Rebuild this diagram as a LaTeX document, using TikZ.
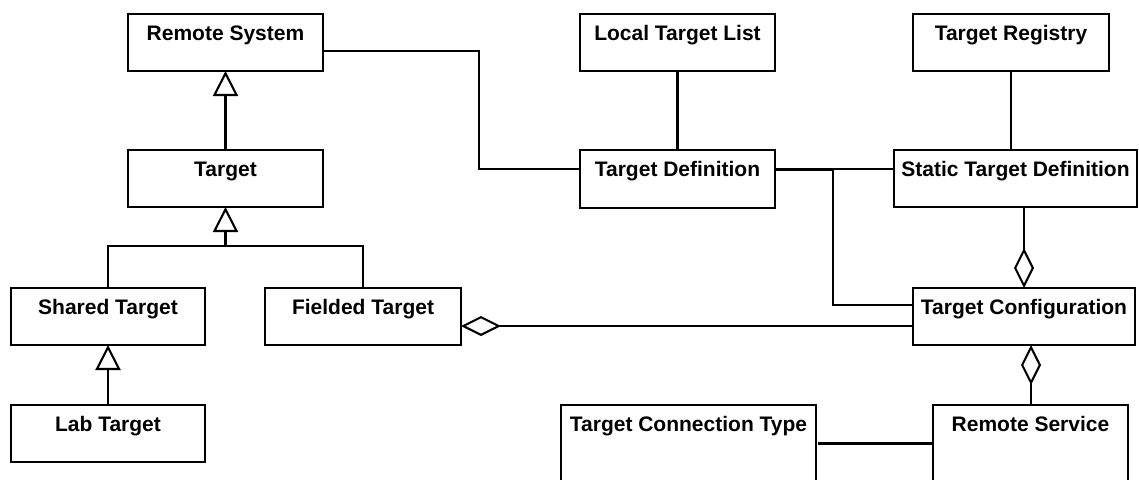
\documentclass[tikz,border=0pt]{standalone}
\usepackage{fontspec}
\setmainfont{Liberation Sans}
\usetikzlibrary{arrows.meta}
\tikzset{
  cls/.style args={#1/#2/#3}{draw, line width=2.1pt, rectangle, anchor=north west,
    minimum width=#1pt, minimum height=#2pt, inner sep=0pt, outer sep=0pt,
    label={[anchor=north, inner sep=0pt, yshift=-11.5pt, font=\fontsize{21pt}{24pt}\selectfont\bfseries]north:{#3}}},
  conn/.style={line width=2.1pt},
  gen/.style={conn, -{Triangle[open, length=25pt, width=25pt, line width=2.1pt]}},
  aggs/.style={conn, {Diamond[open, length=40pt, width=20pt, line width=2.1pt]}-},
  agge/.style={conn, -{Diamond[open, length=40pt, width=20pt, line width=2.1pt]}},
}
\begin{document}
\begin{tikzpicture}[x=1pt, y=1pt]
\clip (0,0) rectangle (1139,-479);
\fill[white] (0,0) rectangle (1139,-479);
% classes
\node[cls=195/57/{Remote System}] (rs) at (128,-14) {};
\node[cls=195/57/{Target}] (tgt) at (128,-150) {};
\node[cls=194/57/{Shared Target}] (sh) at (11,-288) {};
\node[cls=194/57/{Lab Target}] (lab) at (11,-405) {};
\node[cls=196/57/{Fielded Target}] (fld) at (265,-288) {};
\node[cls=195/57/{Local Target List}] (ltl) at (580,-14) {};
\node[cls=195/58/{Target Definition}] (tdef) at (580,-150) {};
\node[cls=196/57/{Target Registry}] (treg) at (913,-14) {};
\node[cls=243/57/{Static Target Definition}] (std) at (894,-150) {};
\node[cls=222/57/{Target Configuration}] (tc) at (913,-288) {};
\node[cls=195/95/{Remote Service}] (rsvc) at (933,-405) {};
\node[cls=255/95/{Target Connection Type}] (tct) at (561,-405) {};
% generalizations
\draw[gen] (tgt.north) -- (rs.south);
\coordinate (j) at (225.5,-246);
\draw[conn] (sh.north) |- (j) -| (fld.north);
\draw[gen] (j) -- (tgt.south);
\draw[gen] (lab.north) -- (sh.south);
% associations
\coordinate (rsE) at ([yshift=-8.5pt]rs.east);
\coordinate (tdW) at ([yshift=10pt]tdef.west);
\draw[conn] (rsE) -- ++(156,0) |- (tdW);
\draw[conn] (ltl.south) -- (ltl.south |- tdef.north);
\coordinate (tdE1) at ([yshift=10pt]tdef.east);
\coordinate (tdE2) at ([yshift=8.8pt]tdef.east);
\draw[conn] (tdE1) -- (tdE1 -| std.west);
\coordinate (tcW) at ([yshift=11.5pt]tc.west);
\draw[conn] (tdE2) -- ++(58,0) |- (tcW);
\draw[conn] (treg.south) -- (treg.south |- std.north);
% aggregations
\draw[aggs] (tc.north) -- (tc.north |- std.south);
\coordinate (rsN) at ([xshift=0.5pt]rsvc.north);
\draw[agge] (rsN) -- (rsN |- tc.south);
\coordinate (fldE) at ([yshift=-9.5pt]fld.east);
\draw[aggs] (fldE) -- (fldE -| tc.west);
\coordinate (tctE) at ([yshift=9pt,xshift=2pt]tct.east);
\draw[conn] (tctE) -- (tctE -| rsvc.west);
\end{tikzpicture}
\end{document}
